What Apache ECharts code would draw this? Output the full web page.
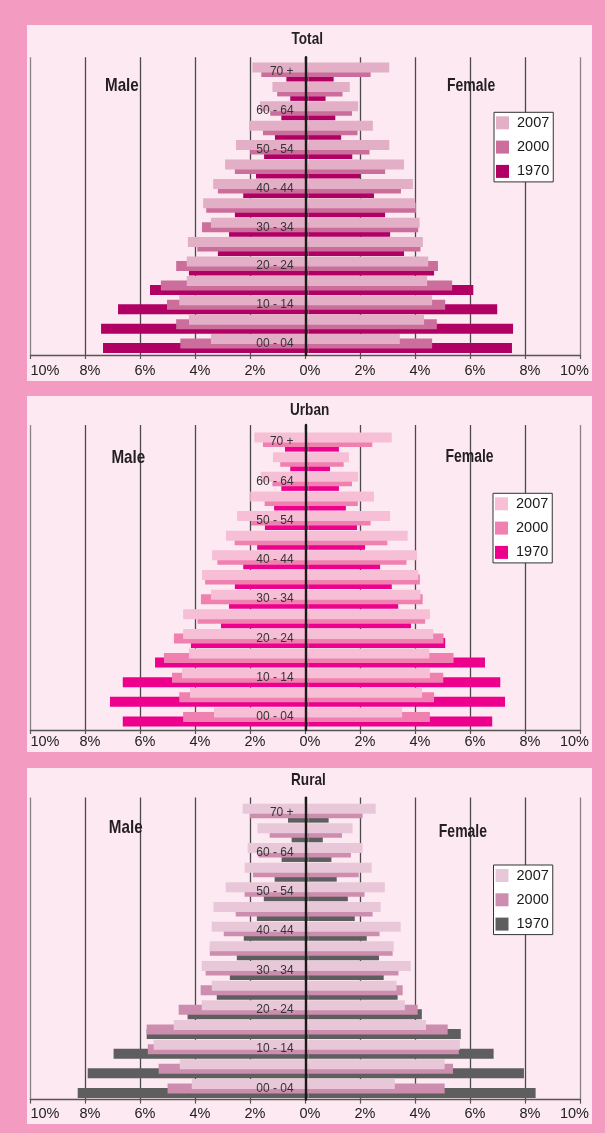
<!DOCTYPE html>
<html>
<head>
<meta charset="utf-8">
<script src="https://cdn.jsdelivr.net/npm/echarts@6/dist/echarts.min.js"></script>
<style>
  html, body { margin: 0; padding: 0; }
  body { width: 605px; height: 1133px; background: #F49BC2; position: relative; overflow: hidden; }
  .panel { position: absolute; left: 27px; width: 565px; height: 356px; background: #FCE9F1; }
</style>
</head>
<body>
<div class="panel" id="p0" style="top:25px"></div>
<div class="panel" id="p1" style="top:396px"></div>
<div class="panel" id="p2" style="top:768px"></div>
<script>
// ---------- data (age groups listed bottom to top) ----------
const ageGroups = ['00 - 04','05 - 09','10 - 14','15 - 19','20 - 24','25 - 29','30 - 34','35 - 39','40 - 44','45 - 49','50 - 54','55 - 59','60 - 64','65 - 69','70 +'];
const years = ['2007', '2000', '1970'];
const panelTitles = ['Total', 'Urban', 'Rural'];
const sideLabels = ['Male', 'Female'];
const xTickValues = [-10, -8, -6, -4, -2, 0, 2, 4, 6, 8, 10];

const totalMale2007   = [3.51, 4.30, 4.65, 4.38, 4.38, 4.34, 3.51, 3.79, 3.43, 3.00, 2.61, 2.14, 1.75, 1.30, 2.02];
const totalMale2000   = [4.61, 4.76, 5.09, 5.31, 4.76, 4.00, 3.83, 3.68, 3.26, 2.65, 2.10, 1.64, 1.38, 1.13, 1.70];
const totalMale1970   = [7.39, 7.46, 6.85, 5.70, 4.30, 3.26, 2.86, 2.65, 2.35, 1.89, 1.60, 1.21, 0.98, 0.66, 0.80];
const totalFemale2007 = [3.28, 4.15, 4.44, 4.26, 4.30, 4.11, 3.99, 3.83, 3.75, 3.43, 2.90, 2.31, 1.78, 1.48, 2.90];
const totalFemale2000 = [4.44, 4.61, 4.91, 5.16, 4.65, 4.02, 3.94, 3.86, 3.32, 2.75, 2.19, 1.76, 1.56, 1.22, 2.23];
const totalFemale1970 = [7.31, 7.35, 6.78, 5.92, 4.51, 3.43, 2.93, 2.75, 2.35, 1.85, 1.57, 1.17, 0.96, 0.61, 0.90];

const urbanMale2007   = [3.40, 4.26, 4.55, 4.30, 4.51, 4.51, 3.51, 3.83, 3.47, 2.97, 2.57, 2.10, 1.72, 1.28, 1.95];
const urbanMale2000   = [4.51, 4.65, 4.91, 5.20, 4.84, 3.99, 3.87, 3.72, 3.28, 2.66, 2.07, 1.58, 1.30, 1.02, 1.64];
const urbanMale1970   = [6.68, 7.14, 6.68, 5.52, 4.23, 3.15, 2.86, 2.65, 2.35, 1.85, 1.57, 1.24, 0.98, 0.66, 0.85];
const urbanFemale2007 = [3.36, 4.08, 4.36, 4.34, 4.48, 4.36, 4.02, 3.94, 3.90, 3.56, 2.93, 2.35, 1.78, 1.45, 2.99];
const urbanFemale2000 = [4.36, 4.51, 4.84, 5.21, 4.85, 4.19, 4.10, 4.00, 3.52, 2.83, 2.23, 1.77, 1.56, 1.26, 2.29];
const urbanFemale1970 = [6.60, 7.06, 6.89, 6.34, 4.91, 3.68, 3.22, 2.99, 2.57, 2.03, 1.74, 1.34, 1.09, 0.77, 1.09];

const ruralMale2007   = [4.20, 4.63, 5.57, 4.85, 3.84, 3.48, 3.84, 3.55, 3.48, 3.42, 2.98, 2.30, 2.19, 1.84, 2.37];
const ruralMale2000   = [5.07, 5.39, 5.78, 5.82, 4.67, 3.88, 3.70, 3.55, 3.05, 2.62, 2.30, 2.00, 1.80, 1.40, 2.11];
const ruralMale1970   = [8.30, 7.94, 7.01, 5.82, 4.35, 3.30, 2.83, 2.58, 2.33, 1.86, 1.61, 1.22, 0.97, 0.61, 0.74];
const ruralFemale2007 = [3.10, 4.89, 5.44, 4.22, 3.46, 3.16, 3.67, 3.06, 3.31, 2.59, 2.74, 2.27, 1.94, 1.58, 2.41];
const ruralFemale2000 = [4.89, 5.19, 5.40, 5.00, 3.92, 3.38, 3.23, 3.02, 2.55, 2.30, 2.01, 1.80, 1.52, 1.20, 1.94];
const ruralFemale1970 = [8.16, 7.74, 6.65, 5.47, 4.07, 3.20, 2.70, 2.53, 2.09, 1.66, 1.41, 1.01, 0.82, 0.51, 0.72];

// ---------- styling / layout ----------
const FONT = '"Liberation Sans","DejaVu Sans",sans-serif';
const PANEL_W = 565, GRID_L = 3.4, GRID_R = 5.2;
const ZERO_X = GRID_L + (PANEL_W - GRID_L - GRID_R) / 2;   // pixel x of 0 inside the panel
const panelCfg = [
  { male: [totalMale2007, totalMale2000, totalMale1970], female: [totalFemale2007, totalFemale2000, totalFemale1970],
    colors: ['#E2AFC6', '#CC6E9C', '#B00064'],
    gridTop: 32.3, gridBottom: 26, barTop: 37.3, barBottom: 27.7, labelMargin: 8,
    title: [264.5, 14.7], maleXY: [78, 61], femaleXY: [420, 61], legend: [467, 87.3] },
  { male: [urbanMale2007, urbanMale2000, urbanMale1970], female: [urbanFemale2007, urbanFemale2000, urbanFemale1970],
    colors: ['#F7BFD6', '#F080B0', '#EC008C'],
    gridTop: 29, gridBottom: 22, barTop: 36.3, barBottom: 25.3, labelMargin: 4,
    title: [263, 14], maleXY: [84.4, 61.6], femaleXY: [418.4, 61.6], legend: [466, 97.3] },
  { male: [ruralMale2007, ruralMale2000, ruralMale1970], female: [ruralFemale2007, ruralFemale2000, ruralFemale1970],
    colors: ['#E8C8D8', '#CC8DAE', '#5E5E5E'],
    gridTop: 29.6, gridBottom: 24.4, barTop: 35.3, barBottom: 25.7, labelMargin: 6.6,
    title: [264, 12], maleXY: [81.8, 59.5], femaleXY: [411.8, 63.7], legend: [466.5, 97] }
];

function buildSeries(cfg, order) {
  const series = [];
  [1, 2].forEach(g => {
    order.forEach(i => {
      series.push({
        name: years[i], type: 'bar', xAxisIndex: g, yAxisIndex: g,
        data: (g === 1 ? cfg.male[i] : cfg.female[i]).slice(),
        barWidth: 10, barGap: '-55%', barCategoryGap: 0,
        itemStyle: { color: cfg.colors[i] }, z: 4 - i, silent: true, animation: false
      });
    });
  });
  return series;
}

panelCfg.forEach((cfg, p) => {
  const chart = echarts.init(document.getElementById('p' + p), null, { renderer: 'canvas', width: 565, height: 356 });
  const splitColors = xTickValues.map(v => Math.abs(v) === 10 ? '#8d7f86' : '#4a4a4a');
  const labelRich = {
    l: { fontFamily: FONT, fontSize: 14.5, color: '#222', padding: [0, 0, 0, 20] },
    m: { fontFamily: FONT, fontSize: 14.5, color: '#222' },
    r: { fontFamily: FONT, fontSize: 14.5, color: '#222', padding: [0, 21, 0, 0] }
  };
  const option = {
    animation: false,
    backgroundColor: 'transparent',
    textStyle: { fontFamily: FONT },
    grid: [
      { left: GRID_L, right: GRID_R, top: cfg.gridTop, bottom: cfg.gridBottom },
      { left: GRID_L, right: PANEL_W - ZERO_X, top: cfg.barTop, bottom: cfg.barBottom },
      { left: ZERO_X, right: GRID_R, top: cfg.barTop, bottom: cfg.barBottom }
    ],
    xAxis: [
      { type: 'value', gridIndex: 0, min: -10, max: 10, interval: 2,
        axisLine: { show: true, onZero: false, lineStyle: { color: '#555', width: 1.3 } },
        axisTick: { show: true, length: 4, lineStyle: { color: '#555', width: 1.2 } },
        splitLine: { show: true, lineStyle: { color: splitColors, width: 1.3 } },
        axisLabel: {
          margin: cfg.labelMargin, color: '#222', padding: [0, 0, 0, 9],
          formatter: v => {
            const t = Math.abs(v) + '%';
            if (v === -10) return '{l|' + t + '}';
            if (v === 10) return '{r|' + t + '}';
            return '{m|' + t + '}';
          },
          rich: labelRich
        }
      },
      { type: 'value', gridIndex: 1, min: 0, max: 10, inverse: true, show: false },
      { type: 'value', gridIndex: 2, min: 0, max: 10, show: false }
    ],
    yAxis: [
      { type: 'value', gridIndex: 0, min: 0, max: 1, z: 10,
        axisLine: { show: true, onZero: true, lineStyle: { color: '#1a1a1a', width: 2.4 } },
        axisTick: { show: false }, axisLabel: { show: false }, splitLine: { show: false } },
      { type: 'category', gridIndex: 1, data: ageGroups, position: 'right', z: 10,
        axisLine: { show: false }, axisTick: { show: false }, splitLine: { show: false },
        axisLabel: { inside: true, interval: 1, margin: 15, fontSize: 12, color: '#333', fontFamily: FONT, padding: [0, 0, 9, 0] } },
      { type: 'category', gridIndex: 2, data: ageGroups, show: false }
    ],
    legend: {
      data: years, orient: 'vertical', left: cfg.legend[0], top: cfg.legend[1],
      itemWidth: 13, itemHeight: 13, itemGap: 9.3, icon: 'rect',
      padding: [3, 4, 3, 2], backgroundColor: '#fff', borderColor: '#333', borderWidth: 1,
      borderRadius: 0, selectedMode: false,
      textStyle: { fontFamily: FONT, fontSize: 14.5, color: '#1a1a1a', padding: [0, 0, 0, 3] }
    },
    graphic: [
      { type: 'text', x: cfg.title[0], y: cfg.title[1], scaleX: 0.8, z: 20, silent: true,
        style: { text: panelTitles[p], font: 'bold 17px ' + FONT, fill: '#231f20', verticalAlign: 'middle', align: 'left' } },
      { type: 'text', x: cfg.maleXY[0], y: cfg.maleXY[1], scaleX: 0.8, z: 20, silent: true,
        style: { text: sideLabels[0], font: 'bold 19px ' + FONT, fill: '#231f20', verticalAlign: 'middle', align: 'left' } },
      { type: 'text', x: cfg.femaleXY[0], y: cfg.femaleXY[1], scaleX: 0.8, z: 20, silent: true,
        style: { text: sideLabels[1], font: 'bold 17.5px ' + FONT, fill: '#231f20', verticalAlign: 'middle', align: 'left' } }
    ],
    series: buildSeries(cfg, [0, 1, 2])
  };
  chart.setOption(option);
  // make sure the 2007 bar sits at the top of each band, 1970 at the bottom
  try {
    const model = chart.getModel();
    const y2007 = model.getSeriesByIndex(0).getData().getItemLayout(0).y;
    const y1970 = model.getSeriesByIndex(2).getData().getItemLayout(0).y;
    if (y2007 > y1970) {
      chart.setOption({ series: buildSeries(cfg, [2, 1, 0]) }, { replaceMerge: ['series'] });
    }
  } catch (e) {}
});
</script>
</body>
</html>
